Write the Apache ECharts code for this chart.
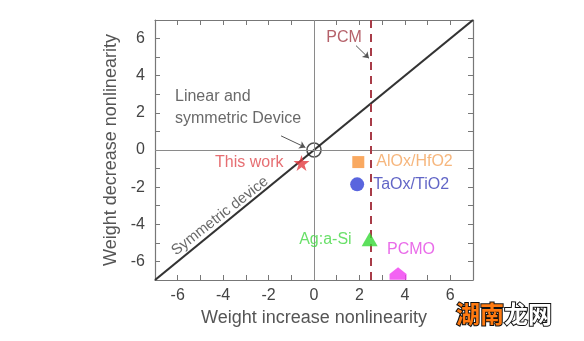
<!DOCTYPE html>
<html><head><meta charset="utf-8">
<script src="https://cdn.jsdelivr.net/npm/echarts@6/dist/echarts.min.js"></script>
<style>html,body{margin:0;padding:0;background:#fff}#c{width:584px;height:341px}</style>
</head><body><div id="c"></div>
<script>
// ---- data ----
const axisMin = -7, axisMax = 7;
const tickLabels = [-6, -4, -2, 0, 2, 4, 6];
const diagX = [-7, 7];
const diagY = [-7, 7];
const idealPoint = [0, 0];
const pointNames = ['This work', 'AlOx/HfO2', 'TaOx/TiO2', 'Ag:a-Si', 'PCMO'];
const pointX = [-0.55, 1.95, 1.9, 2.45, 3.7];
const pointY = [-0.7, -0.65, -1.85, -4.8, -6.7];
const pcmX = 2.5;

const FONT = 'Liberation Sans';
const star = 'path://M50,0 L61.8,35.4 L100,35.4 L69.1,57.3 L80.9,92.7 L50,70.8 L19.1,92.7 L30.9,57.3 L0,35.4 L38.2,35.4 Z';
const clippedDiamond = 'path://M50,0 L100,55 L100,100 L0,100 L0,55 Z';

const pointStyles = [
  {symbol: star, symbolSize: 16, color: '#e23a3f', label: {position: 'left', distance: 10, color: '#e04a4f'}},
  {symbol: 'rect', symbolSize: 12, color: '#f7943a', label: {position: 'right', distance: 12, color: '#f4a45c'}},
  {symbol: 'circle', symbolSize: 14, color: '#2f3fd6', label: {position: 'right', distance: 9, color: '#3a3fb8'}},
  {symbol: 'triangle', symbolSize: [16, 14], color: '#35d835', label: {position: 'left', distance: 10, color: '#44d844'}},
  {symbol: clippedDiamond, symbolSize: [17, 12.5], symbolOffset: [0, -1], color: '#f03cf0', label: {position: 'top', distance: 6, offset: [13, -4], color: '#e446e4'}}
];

const pts = pointNames.map((n, i) => {
  const s = pointStyles[i];
  return {
    name: n, value: [pointX[i], pointY[i]],
    symbol: s.symbol, symbolSize: s.symbolSize, symbolOffset: s.symbolOffset || [0, 0],
    itemStyle: {color: s.color},
    label: Object.assign({show: true, formatter: n, fontSize: 16, fontFamily: FONT}, s.label)
  };
});

const tickFmt = v => (tickLabels.indexOf(v) >= 0 ? String(v) : '');
const axisCommon = {
  type: 'value', min: axisMin, max: axisMax, interval: 1,
  axisLine: {show: true, onZero: false, lineStyle: {color: '#777', width: 1.2}},
  axisTick: {show: true, inside: true, length: 5, lineStyle: {color: '#777'}},
  splitLine: {show: false}
};

const annot = (value, text, label) => ({
  value, symbolSize: 0,
  label: Object.assign({show: true, formatter: text, fontSize: 16, fontFamily: FONT, color: '#444'}, label)
});

const option = {
  animation: false,
  backgroundColor: '#fff',
  grid: {left: 155, right: 111, top: 20, bottom: 61},
  xAxis: [
    Object.assign({}, axisCommon, {
      position: 'bottom',
      name: 'Weight increase nonlinearity', nameLocation: 'middle', nameGap: 25,
      nameTextStyle: {fontSize: 18, color: '#555', fontFamily: FONT},
      axisLabel: {formatter: tickFmt, fontSize: 16, color: '#444', margin: 8, fontFamily: FONT, showMinLabel: true, showMaxLabel: true}
    }),
    Object.assign({}, axisCommon, {position: 'top', axisLabel: {show: false}})
  ],
  yAxis: [
    Object.assign({}, axisCommon, {
      position: 'left',
      name: 'Weight decrease nonlinearity', nameLocation: 'middle', nameGap: 30,
      nameTextStyle: {fontSize: 18, color: '#555', fontFamily: FONT},
      axisLabel: {formatter: tickFmt, fontSize: 16, color: '#444', margin: 10, fontFamily: FONT}
    }),
    Object.assign({}, axisCommon, {position: 'right', axisLabel: {show: false}})
  ],
  series: [
    {
      type: 'line', silent: true, symbol: 'none', z: 1,
      data: [],
      markLine: {
        silent: true, symbol: 'none', animation: false,
        label: {show: false},
        data: [
          {xAxis: 0, lineStyle: {color: '#8a8a8a', width: 1, type: 'solid'}},
          {yAxis: 0, lineStyle: {color: '#8a8a8a', width: 1, type: 'solid'}},
          {xAxis: pcmX, lineStyle: {color: '#a83c48', width: 2, type: [8, 6]}}
        ]
      }
    },
    {
      type: 'line', symbol: 'none', z: 3,
      lineStyle: {color: '#333', width: 2.2},
      data: diagX.map((x, i) => [x, diagY[i]]),
      markLine: {
        silent: true, symbol: ['none', 'arrow'], symbolSize: 6, animation: false,
        label: {show: false},
        lineStyle: {color: '#555', width: 1, type: 'solid'},
        data: [
          [{coord: [-1.45, 0.76]}, {coord: [-0.38, 0.14]}],
          [{coord: [1.85, 5.62]}, {coord: [2.42, 4.94]}]
        ]
      }
    },
    {
      type: 'scatter', z: 4,
      data: [{value: idealPoint, symbol: 'circle', symbolSize: 14,
        itemStyle: {color: 'rgba(0,0,0,0)', borderColor: '#222', borderWidth: 1.6}}]
    },
    {
      type: 'scatter', z: 5, data: pts
    },
    {
      type: 'scatter', z: 6, silent: true,
      data: [
        annot([-6.12, 2.26], 'Linear and\nsymmetric Device', {position: 'right', distance: 0, lineHeight: 22, align: 'left'}),
        annot([-4.14, -3.56], 'Symmetric device', {position: 'inside', fontSize: 15, rotate: 38, align: 'center', verticalAlign: 'middle'}),
        annot([1.32, 6.05], 'PCM', {position: 'inside', color: '#a33a45', align: 'center', verticalAlign: 'middle'})
      ]
    }
  ],
  graphic: [
    {type: 'text', left: 455, top: 301, z: 100,
      style: {text: '湖南', font: 'bold 24px "Noto Sans CJK SC"', fill: '#ff7a10', stroke: '#111', lineWidth: 2}},
    {type: 'text', left: 503, top: 301, z: 100,
      style: {text: '龙网', font: 'bold 24px "Noto Sans CJK SC"', fill: '#fff', stroke: '#111', lineWidth: 2}}
  ]
};

const chart = echarts.init(document.getElementById('c'), null, {renderer: 'canvas'});
chart.setOption(option);
</script>
</body></html>
